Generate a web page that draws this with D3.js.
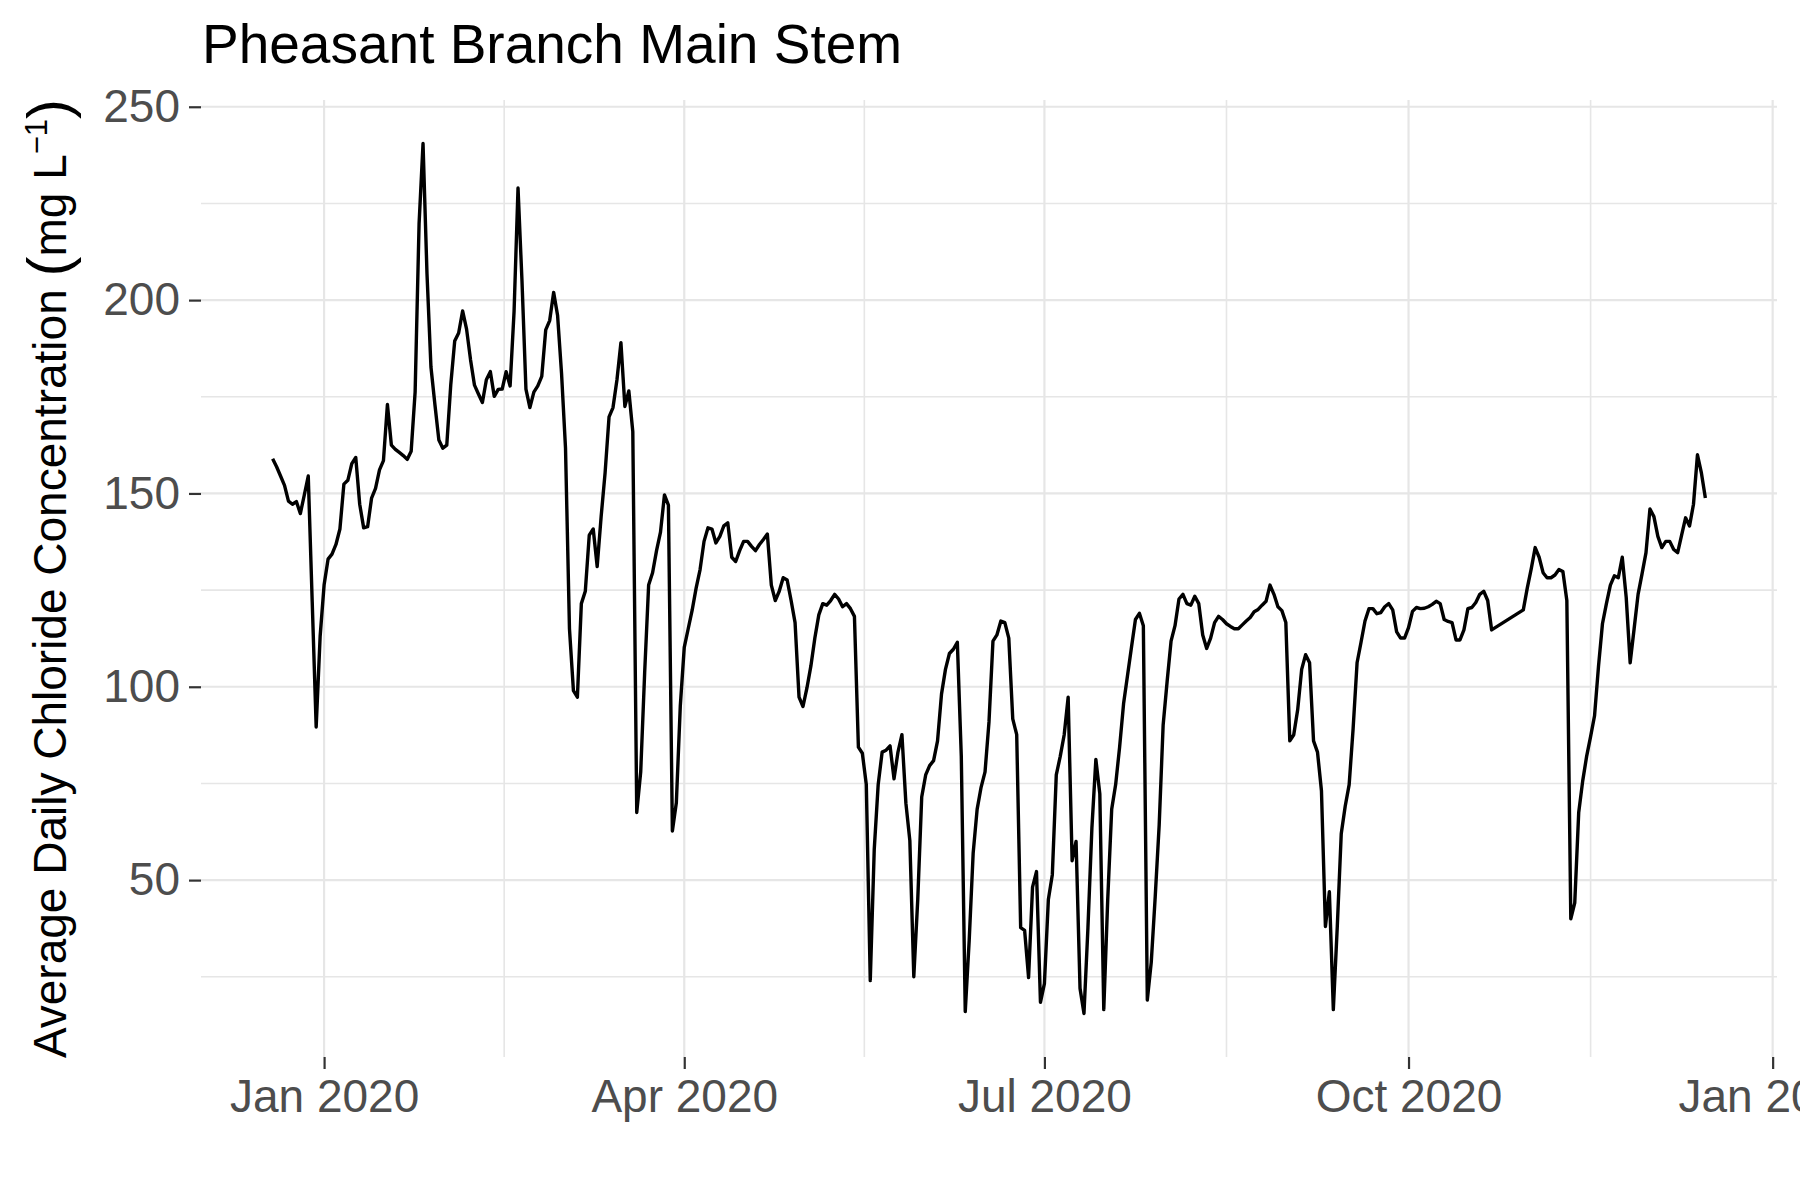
<!DOCTYPE html>
<html>
<head>
<meta charset="utf-8">
<script src="https://cdn.jsdelivr.net/npm/d3@7"></script>
<style>
  body { margin: 0; background: #fff; }
  svg { display: block; font-family: "Liberation Sans", Arial, sans-serif; }
</style>
</head>
<body>
<div class="line-chart"></div>
<script>
// daily mean chloride (mg/L), one array per month
var dec2019 = [159, 156.9, 154.5, 152.1, 148, 147.2, 147.9, 144.8, 149.6, 154.5, 122, 89.6, 113];
var jan2020 = [126.3, 133, 134.3, 136.8, 140.8, 152.4, 153.4, 157.7, 159.3, 147.2, 141.1, 141.4, 148.8, 151.3, 156.1, 158.5,
               173, 162.5, 161.4, 160.6, 159.8, 158.8, 160.9, 176.2, 219.7, 240.5, 206.8, 182.7, 173, 163.8, 161.7];
var feb2020 = [162.5, 178, 189.4, 191.5, 197.2, 192.5, 184.6, 178, 175.7, 173.5, 179.4, 181.5, 175.1, 176.9, 177,
               181.5, 177.8, 197, 229, 205, 177, 172.2, 176.2, 177.8, 180.3, 192.3, 194.7, 202, 196];
var mar2020 = [181, 161.7, 115, 99, 97.3, 121.5, 124.7, 139.2, 140.8, 131.1, 144, 155.3, 169.8, 172.2, 179.4, 189,
               172.5, 176.5, 166, 67.5, 78, 103.7, 126.3, 129.5, 135.2, 140, 149.6, 147, 62.7, 70, 95];
var apr2020 = [110.2, 115, 119.8, 125.5, 130.3, 137.6, 141.1, 140.8, 137.2, 138.9, 141.6, 142.4, 133.5, 132.4, 135.2,
               137.6, 137.6, 136.3, 135.2, 136.8, 138.1, 139.5, 126.3, 122.3, 124.7, 128.2, 127.6, 122.3, 116.6, 97.3];
var may2020 = [94.9, 99.7, 105.4, 112.6, 118.6, 121.5, 121.1, 122.3, 123.9, 122.7, 120.7, 121.5, 120.2, 118.2, 84.4,
               82.8, 74.7, 24, 57.8, 74.7, 83.1, 83.6, 84.7, 76.2, 83.1, 87.6, 69.9, 60.2, 25, 45, 71.5];
var jun2020 = [77.2, 79.6, 80.9, 86, 98.1, 104.5, 108.6, 109.7, 111.5, 82, 16, 34.5, 57, 68.3, 74, 78, 90.9, 111.8,
               113.4, 117, 116.6, 112.6, 91.7, 87.6, 37.7, 37, 24.8, 48.2, 52.2, 18.4];
var jul2020 = [23.2, 45, 51.4, 77.2, 82, 87.6, 97.3, 55, 60, 22, 15.5, 37.7, 63.5, 81.2, 72.3, 16.5, 45, 68.3, 74.7,
               84.4, 95.6, 102.9, 110.2, 117.4, 119, 115.8, 19, 28.8, 45.7, 64.3, 90.1];
var aug2020 = [101.3, 111.8, 115.8, 122.7, 123.9, 121.5, 121.1, 123.4, 121.5, 113.4, 109.9, 112.6, 116.6, 118.2, 117.4,
               116.3, 115.6, 115, 115, 116, 117, 117.9, 119.4, 120, 121.1, 122.1, 126.3, 123.9, 120.7, 119.7, 116.6];
var sep2020 = [86, 87.6, 94.1, 104.5, 108.3, 106.2, 86, 83.1, 73.1, 38, 47, 16.5, 38, 62, 69.1, 74.7, 89.2, 106.2,
               111.5, 117, 120.2, 120.2, 118.9, 119.2, 120.7, 121.5, 119.9, 114.2, 112.6, 112.6];
// no readings Oct 23 - Oct 29
var oct2020 = [115.3, 119.5, 120.5, 120.2, 120.3, 120.7, 121.3, 122.1, 121.5, 117.4, 116.9, 116.6, 112.1, 112.1, 114.7,
               120.2, 120.5, 121.8, 123.9, 124.7, 122.3, 114.7, null, null, null, null, null, null, null, 119.9, 125.5];
var nov2020 = [130.5, 136, 133.5, 129.5, 128.2, 128.2, 128.9, 130.3, 129.8, 122.3, 40, 44.1, 67.5, 75.6, 82, 87.1,
               92.5, 105.3, 116.3, 121.5, 126.3, 128.7, 128.2, 133.5, 123.1, 106.2, 115, 123.9, 129.2, 134.7];
var dec2020 = [146, 144, 138.9, 136, 137.6, 137.6, 135.5, 134.7, 139.2, 143.7, 141.6, 147.2, 160, 155.3, 148.8];

var monthStarts = ["2019-12-19", "2020-01-01", "2020-02-01", "2020-03-01", "2020-04-01", "2020-05-01", "2020-06-01",
                   "2020-07-01", "2020-08-01", "2020-09-01", "2020-10-01", "2020-11-01", "2020-12-01"];
var monthValues = [dec2019, jan2020, feb2020, mar2020, apr2020, may2020, jun2020,
                   jul2020, aug2020, sep2020, oct2020, nov2020, dec2020];

var xTickDates = ["2020-01-01", "2020-04-01", "2020-07-01", "2020-10-01", "2021-01-01"];
var xTickLabels = ["Jan 2020", "Apr 2020", "Jul 2020", "Oct 2020", "Jan 2021"];
var yTicks = [50, 100, 150, 200, 250];
var yMinor = [25, 75, 125, 175, 225];

var parseDay = d3.utcParse("%Y-%m-%d");

// flatten the monthly arrays into one series
var data = [];
monthValues.forEach(function(vals, i) {
  var start = parseDay(monthStarts[i]);
  vals.forEach(function(v, j) {
    if (v !== null) data.push({date: d3.utcDay.offset(start, j), value: v});
  });
});

var width = 1800, height = 1200;
var panel = {left: 201, right: 1777, top: 100, bottom: 1057};

var svg = d3.select(".line-chart").append("svg")
  .attr("width", width).attr("height", height)
  .style("background", "#fff");

// ggplot style 5% expansion
var xExt = d3.extent(data, function(d) { return d.date; });
var xPad = (xExt[1] - xExt[0]) * 0.05;
var x = d3.scaleUtc()
  .domain([new Date(+xExt[0] - xPad), new Date(+xExt[1] + xPad)])
  .range([panel.left, panel.right]);

var yExt = d3.extent(data, function(d) { return d.value; });
var yPad = (yExt[1] - yExt[0]) * 0.05;
var y = d3.scaleLinear()
  .domain([yExt[0] - yPad, yExt[1] + yPad])
  .range([panel.bottom, panel.top]);

var majorDates = xTickDates.map(parseDay);
var minorDates = d3.pairs(majorDates).map(function(p) { return new Date((+p[0] + +p[1]) / 2); });

var grid = svg.append("g").attr("stroke", "#e6e6e6");

// minor grid
grid.selectAll(".ym").data(yMinor).enter().append("line")
  .attr("x1", panel.left).attr("x2", panel.right)
  .attr("y1", function(d) { return y(d); }).attr("y2", function(d) { return y(d); })
  .attr("stroke-width", 1.6);
grid.selectAll(".xm").data(minorDates).enter().append("line")
  .attr("y1", panel.top).attr("y2", panel.bottom)
  .attr("x1", function(d) { return x(d); }).attr("x2", function(d) { return x(d); })
  .attr("stroke-width", 1.6);

// major grid
grid.selectAll(".yM").data(yTicks).enter().append("line")
  .attr("x1", panel.left).attr("x2", panel.right)
  .attr("y1", function(d) { return y(d); }).attr("y2", function(d) { return y(d); })
  .attr("stroke-width", 2.2);
grid.selectAll(".xM").data(majorDates).enter().append("line")
  .attr("y1", panel.top).attr("y2", panel.bottom)
  .attr("x1", function(d) { return x(d); }).attr("x2", function(d) { return x(d); })
  .attr("stroke-width", 2.2);

// the series
var line = d3.line()
  .x(function(d) { return x(d.date); })
  .y(function(d) { return y(d.value); });

svg.append("path")
  .datum(data)
  .attr("fill", "none")
  .attr("stroke", "#000")
  .attr("stroke-width", 3.4)
  .attr("stroke-linejoin", "round")
  .attr("d", line);

// axes
var xAxis = d3.axisBottom(x)
  .tickValues(majorDates)
  .tickFormat(function(d, i) { return xTickLabels[i]; })
  .tickSize(12).tickPadding(10);

var yAxis = d3.axisLeft(y)
  .tickValues(yTicks)
  .tickSize(12).tickPadding(9);

var gx = svg.append("g").attr("transform", "translate(0," + panel.bottom + ")").call(xAxis);
var gy = svg.append("g").attr("transform", "translate(" + panel.left + ",0)").call(yAxis);

[gx, gy].forEach(function(g) {
  g.select(".domain").remove();
  g.selectAll(".tick line").attr("stroke", "#333").attr("stroke-width", 2.2);
  g.selectAll(".tick text")
    .attr("fill", "#4d4d4d")
    .style("font-size", "46px")
    .style("font-family", "'Liberation Sans', Arial, sans-serif");
});

// y axis title
var yTitle = svg.append("text")
  .attr("transform", "translate(66," + ((panel.top + panel.bottom) / 2) + ") rotate(-90)")
  .attr("text-anchor", "middle")
  .attr("fill", "#000")
  .style("font-size", "46px");
yTitle.append("tspan").text("Average Daily Chloride Concentration ");
yTitle.append("tspan").style("font-size", "60px").attr("dy", 3).text("(");
yTitle.append("tspan").attr("dy", -3).text("mg L");
yTitle.append("tspan").style("font-size", "31px").attr("dy", -19).text("\u22121");
yTitle.append("tspan").style("font-size", "60px").attr("dy", 22).text(")");

// plot title
svg.append("text")
  .attr("x", 202)
  .attr("y", 63)
  .attr("fill", "#000")
  .style("font-size", "55px")
  .text("Pheasant Branch Main Stem");
</script>
</body>
</html>
